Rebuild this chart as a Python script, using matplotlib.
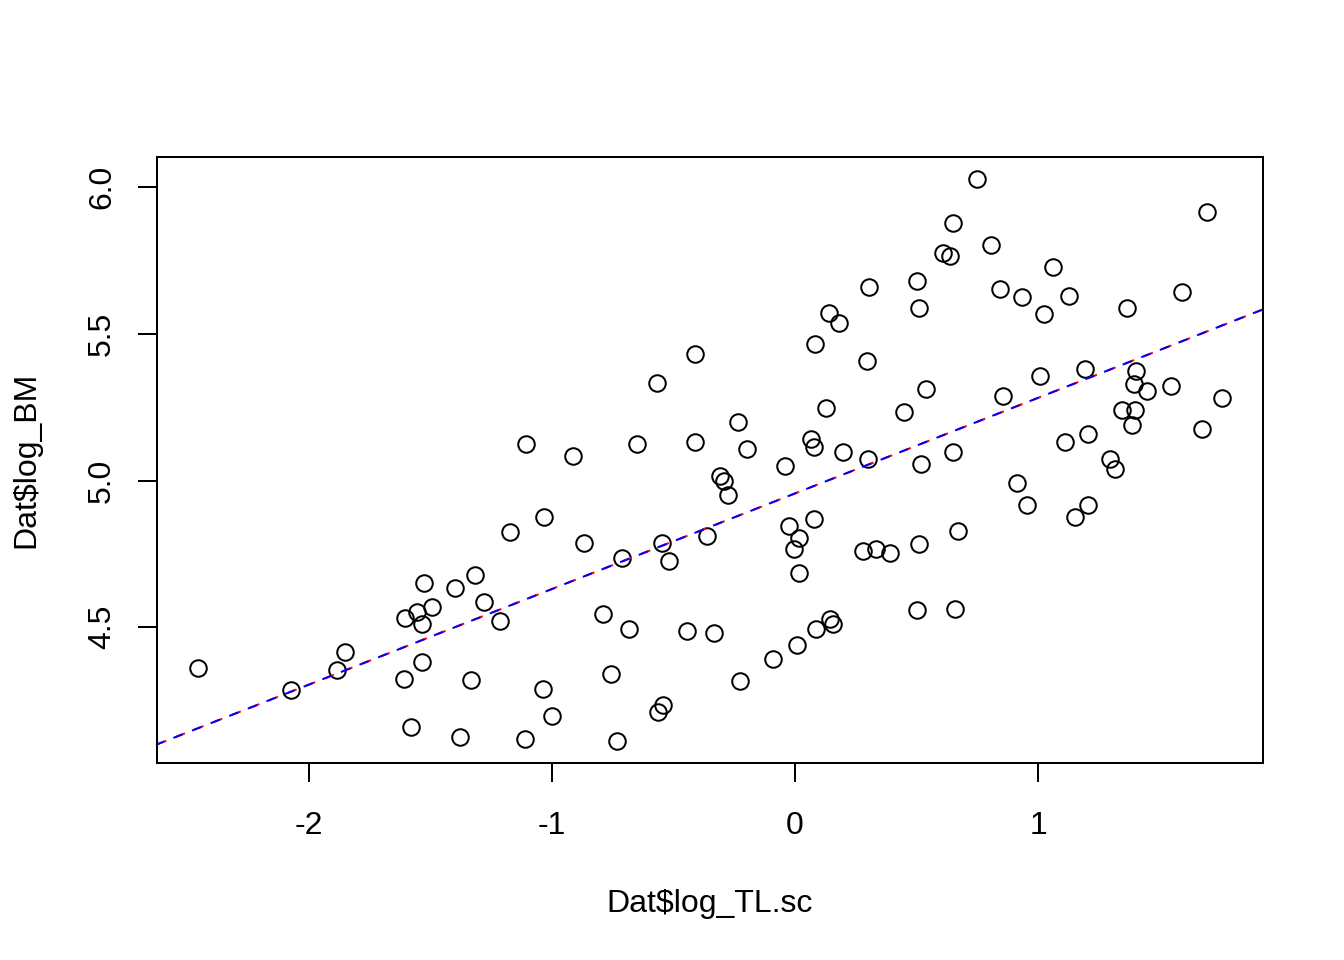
import numpy as np
import matplotlib
matplotlib.use("Agg")
import matplotlib.pyplot as plt

# Dat$log_TL.sc (x) und Dat$log_BM (y)
log_TL_sc = [
    -2.457, -2.074, -1.885, -1.852, -1.609, -1.605, -1.556, -1.535, -1.527, -1.494,
    -1.535, -1.580, -1.399, -1.379, -1.333, -1.317, -1.280, -1.214, -1.173, -1.107,
    -1.111, -1.037, -1.033, -1.000, -0.914, -0.868, -0.790, -0.757, -0.733, -0.712,
    -0.683, -0.650, -0.568, -0.564, -0.543, -0.547, -0.519, -0.444, -0.412, -0.412,
    -0.362, -0.333, -0.309, -0.292, -0.276, -0.235, -0.226, -0.198, -0.091, -0.041,
    -0.025, -0.004, 0.008, 0.016, 0.016, 0.066, 0.078, 0.082, 0.078, 0.086,
    0.128, 0.140, 0.144, 0.156, 0.181, 0.198, 0.280, 0.296, 0.300, 0.305,
    0.333, 0.391, 0.449, 0.502, 0.502, 0.510, 0.510, 0.519, 0.539, 0.609,
    0.638, 0.650, 0.650, 0.658, 0.671, 0.749, 0.807, 0.844, 0.856, 0.914,
    0.934, 0.955, 1.008, 1.025, 1.062, 1.111, 1.128, 1.152, 1.193, 1.206,
    1.206, 1.296, 1.317, 1.346, 1.366, 1.387, 1.395, 1.403, 1.399, 1.449,
    1.547, 1.593, 1.675, 1.695, 1.757,
]
log_BM = [
    4.362, 4.287, 4.352, 4.416, 4.324, 4.532, 4.553, 4.509, 4.652, 4.570,
    4.382, 4.160, 4.635, 4.126, 4.321, 4.679, 4.584, 4.522, 4.823, 5.126,
    4.119, 4.290, 4.877, 4.198, 5.082, 4.788, 4.543, 4.341, 4.113, 4.737,
    4.495, 5.126, 5.334, 4.212, 4.235, 4.788, 4.727, 4.488, 5.433, 5.130,
    4.812, 4.481, 5.014, 5.000, 4.952, 5.198, 4.317, 5.106, 4.392, 5.048,
    4.846, 4.768, 4.440, 4.686, 4.805, 5.143, 5.113, 5.464, 4.870, 4.495,
    5.246, 5.573, 4.529, 4.512, 5.536, 5.096, 4.761, 5.406, 5.075, 5.659,
    4.768, 4.754, 5.235, 5.679, 4.560, 5.587, 4.782, 5.058, 5.311, 5.775,
    5.765, 5.877, 5.096, 4.563, 4.829, 6.027, 5.802, 5.652, 5.287, 4.993,
    5.625, 4.915, 5.358, 5.567, 5.727, 5.133, 5.631, 4.877, 5.382, 5.157,
    4.915, 5.075, 5.041, 5.239, 5.590, 5.188, 5.328, 5.375, 5.239, 5.307,
    5.321, 5.642, 5.177, 5.915, 5.283,
]

# Regressionsgerade (abline)
intercept = 4.956
slope = 0.326

x_ticks = [-2, -1, 0, 1]
y_ticks = [4.5, 5.0, 5.5, 6.0]
y_tick_labels = ["4.5", "5.0", "5.5", "6.0"]

plt.rcParams['font.family'] = ['Liberation Sans', 'DejaVu Sans']
plt.rcParams['font.size'] = 12

fig = plt.figure(figsize=(7, 5), dpi=192)
ax = fig.add_axes([157 / 1344, 1 - 763 / 960, (1263 - 157) / 1344, (763 - 157) / 960])

ax.plot(log_TL_sc, log_BM, linestyle='none', marker='o', markersize=6.2,
        markerfacecolor='none', markeredgecolor='black', markeredgewidth=0.75)

ax.axline((0, intercept), slope=slope, color='red', lw=0.75, dashes=(5, 5))
ax.axline((0, intercept), slope=slope, color='blue', lw=0.75,
          linestyle=(1.2, (5, 5)))

ax.margins(0.04)

ax.set_xticks(x_ticks)
ax.set_xticklabels([str(t) for t in x_ticks])
ax.set_yticks(y_ticks)
ax.set_yticklabels(y_tick_labels, rotation=90, va='center')
ax.tick_params(direction='out', length=7.2, width=0.75)
ax.tick_params(axis='x', pad=10.8)
ax.tick_params(axis='y', pad=7.8)

for s in ax.spines.values():
    s.set_linewidth(0.75)

ax.set_xlabel('Dat$log_TL.sc', labelpad=18)
ax.set_ylabel('Dat$log_BM', labelpad=17)

fig.savefig('out.png', dpi=192)
